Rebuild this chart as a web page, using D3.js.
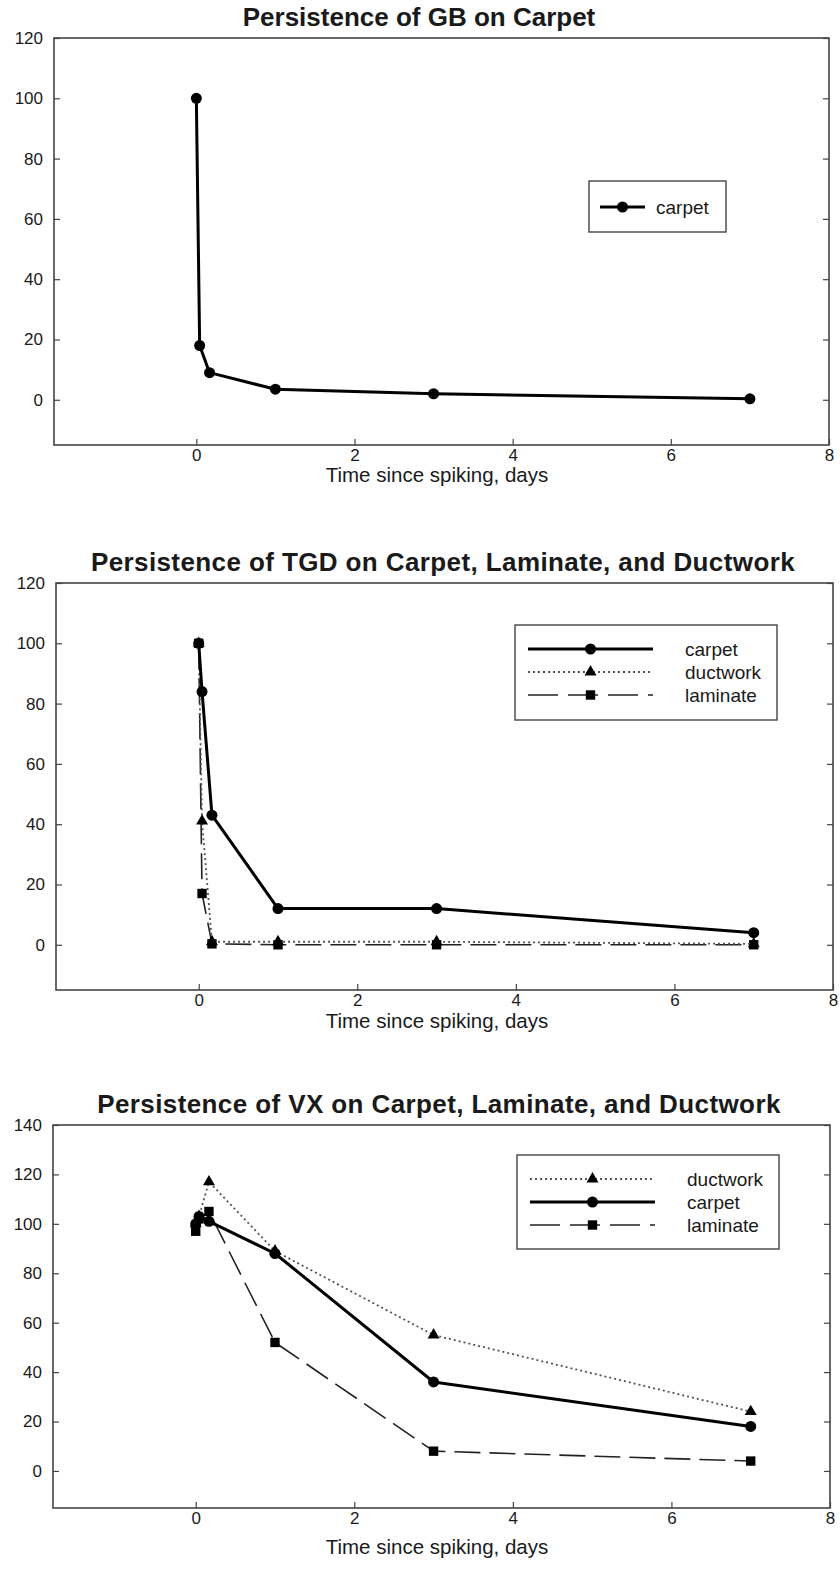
<!DOCTYPE html>
<html>
<head>
<meta charset="utf-8">
<script src="https://cdn.jsdelivr.net/npm/d3@7"></script>
<style>
    body { margin: 0; background: #fff; }
    svg { display: block; }
    text { font-family: "Liberation Sans", Arial, Helvetica, sans-serif; fill: #1a1a1a; }
</style>
</head>
<body>
<div id="chart"></div>
<script>
// sampling times, days (0, 1 h, 4 h, 1 d, 3 d, 7 d)
const days = [0, 0.042, 0.167, 1, 3, 7];

const xTicks = [0, 2, 4, 6, 8];
const yTicks120 = [0, 20, 40, 60, 80, 100, 120];
const yTicks140 = [0, 20, 40, 60, 80, 100, 120, 140];

// percent remaining
const gbCarpet = [100, 18, 9, 3.5, 2, 0.3];

const tgdCarpet = [100, 84, 43, 12, 12, 4];
const tgdDuctwork = [100, 41, 1, 1, 1, 0.3];
const tgdLaminate = [100, 17, 0.3, 0, 0, 0];

const vxDuctwork = [100, 103, 117, 89, 55, 24];
const vxCarpet = [100, 103, 101, 88, 36, 18];
const vxLaminate = [97, 102, 105, 52, 8, 4];

const titles = [
    'Persistence of GB on Carpet',
    'Persistence of TGD on Carpet, Laminate, and Ductwork',
    'Persistence of VX on Carpet, Laminate, and Ductwork'
];
const xLabel = 'Time since spiking, days';

const lineStyle = {
    carpet:   { color: '#000', width: 3,   dash: null,   symbol: d3.symbolCircle,   size: 95 },
    ductwork: { color: '#555', width: 1.8, dash: '2,3',  symbol: d3.symbolTriangle, size: 62 },
    laminate: { color: '#222', width: 1.6, dash: '26,9', symbol: d3.symbolSquare,   size: 88 }
};

const svg = d3.select('#chart')
    .append('svg')
        .attr('width', 840)
        .attr('height', 1593);

function drawChart(cfg) {
    const width = cfg.right - cfg.left,
        height = cfg.bottom - cfg.top;

    const g = svg.append('g')
        .attr('transform', `translate(${cfg.left},${cfg.top})`);

    const x = d3.scaleLinear().domain([-1.8, 8]).range([0, width]);
    const y = d3.scaleLinear().domain([-15, cfg.yMax]).range([height, 0]);

    // title
    svg.append('text')
        .attr('x', cfg.titleX)
        .attr('y', cfg.top - 12)
        .attr('text-anchor', 'middle')
        .style('font-size', '26px')
        .style('font-weight', 'bold')
        .style('letter-spacing', cfg.titleSpacing + 'px')
        .text(cfg.title);

    // axes, ticks pointing inwards
    const xAxis = g.append('g')
        .attr('transform', `translate(0,${height})`)
        .call(d3.axisBottom(x).tickValues(xTicks).tickSize(-6).tickPadding(4));
    const yAxis = g.append('g')
        .call(d3.axisLeft(y).tickValues(cfg.yTicks).tickSize(-6).tickPadding(11));
    const yRight = g.append('g')
        .attr('transform', `translate(${width},0)`)
        .call(d3.axisRight(y).tickValues(cfg.yTicks).tickSize(-6).tickFormat(''));

    [xAxis, yAxis, yRight].forEach(a => {
        a.select('.domain').remove();
        a.selectAll('line').attr('stroke', '#444').attr('stroke-width', 1.2);
        a.selectAll('text').style('font-size', '17px').attr('fill', '#1a1a1a');
    });

    // frame
    g.append('rect')
        .attr('width', width)
        .attr('height', height)
        .attr('fill', 'none')
        .attr('stroke', '#444')
        .attr('stroke-width', 1.6);

    // x label
    svg.append('text')
        .attr('x', 437)
        .attr('y', cfg.bottom + cfg.xLabelDy)
        .attr('text-anchor', 'middle')
        .attr('dy', '0.35em')
        .style('font-size', '20.5px')
        .text(xLabel);

    const line = d3.line()
        .x((d, i) => x(days[i]))
        .y(d => y(d));

    cfg.series.forEach(s => {
        const st = lineStyle[s.name];
        g.append('path')
            .datum(s.values)
            .attr('fill', 'none')
            .attr('stroke', st.color)
            .attr('stroke-width', st.width)
            .attr('stroke-dasharray', st.dash)
            .attr('stroke-linejoin', 'round')
            .attr('d', line);

        g.selectAll(null)
            .data(s.values)
            .enter()
            .append('path')
            .attr('transform', (d, i) => `translate(${x(days[i])},${y(d)})`)
            .attr('d', d3.symbol().type(st.symbol).size(st.size))
            .attr('fill', '#000');
    });

    // legend
    const lg = cfg.legend;
    const leg = svg.append('g').attr('transform', `translate(${lg.x},${lg.y})`);
    leg.append('rect')
        .attr('width', lg.w)
        .attr('height', lg.h)
        .attr('fill', '#fff')
        .attr('stroke', '#444')
        .attr('stroke-width', 1.4);

    cfg.legendOrder.forEach((name, i) => {
        const st = lineStyle[name];
        const ry = lg.row0 + i * 23;
        leg.append('line')
            .attr('x1', lg.x1).attr('x2', lg.x2)
            .attr('y1', ry).attr('y2', ry)
            .attr('stroke', st.color)
            .attr('stroke-width', st.width)
            .attr('stroke-dasharray', name === 'laminate' ? '30,10' : st.dash);
        leg.append('path')
            .attr('transform', `translate(${(lg.x1 + lg.x2) / 2},${ry})`)
            .attr('d', d3.symbol().type(st.symbol).size(st.size))
            .attr('fill', '#000');
        leg.append('text')
            .attr('x', lg.tx)
            .attr('y', ry)
            .attr('dy', '0.35em')
            .style('font-size', '19px')
            .text(name);
    });
}

drawChart({
    title: titles[0], titleX: 419, titleSpacing: 0,
    left: 54, right: 829, top: 38, bottom: 445, xLabelDy: 30,
    yMax: 120, yTicks: yTicks120,
    series: [{ name: 'carpet', values: gbCarpet }],
    legend: { x: 589, y: 181, w: 137, h: 51, row0: 26, x1: 11, x2: 56, tx: 67 },
    legendOrder: ['carpet']
});

drawChart({
    title: titles[1], titleX: 443, titleSpacing: 0.4,
    left: 56, right: 833, top: 583, bottom: 990, xLabelDy: 31,
    yMax: 120, yTicks: yTicks120,
    series: [
        { name: 'laminate', values: tgdLaminate },
        { name: 'ductwork', values: tgdDuctwork },
        { name: 'carpet', values: tgdCarpet }
    ],
    legend: { x: 515, y: 625, w: 262, h: 95, row0: 24, x1: 13, x2: 138, tx: 170 },
    legendOrder: ['carpet', 'ductwork', 'laminate']
});

drawChart({
    title: titles[2], titleX: 439, titleSpacing: 0.4,
    left: 53, right: 830, top: 1125, bottom: 1508, xLabelDy: 39,
    yMax: 140, yTicks: yTicks140,
    series: [
        { name: 'laminate', values: vxLaminate },
        { name: 'ductwork', values: vxDuctwork },
        { name: 'carpet', values: vxCarpet }
    ],
    legend: { x: 517, y: 1155, w: 262, h: 94, row0: 24, x1: 13, x2: 138, tx: 170 },
    legendOrder: ['ductwork', 'carpet', 'laminate']
});
</script>
</body>
</html>
